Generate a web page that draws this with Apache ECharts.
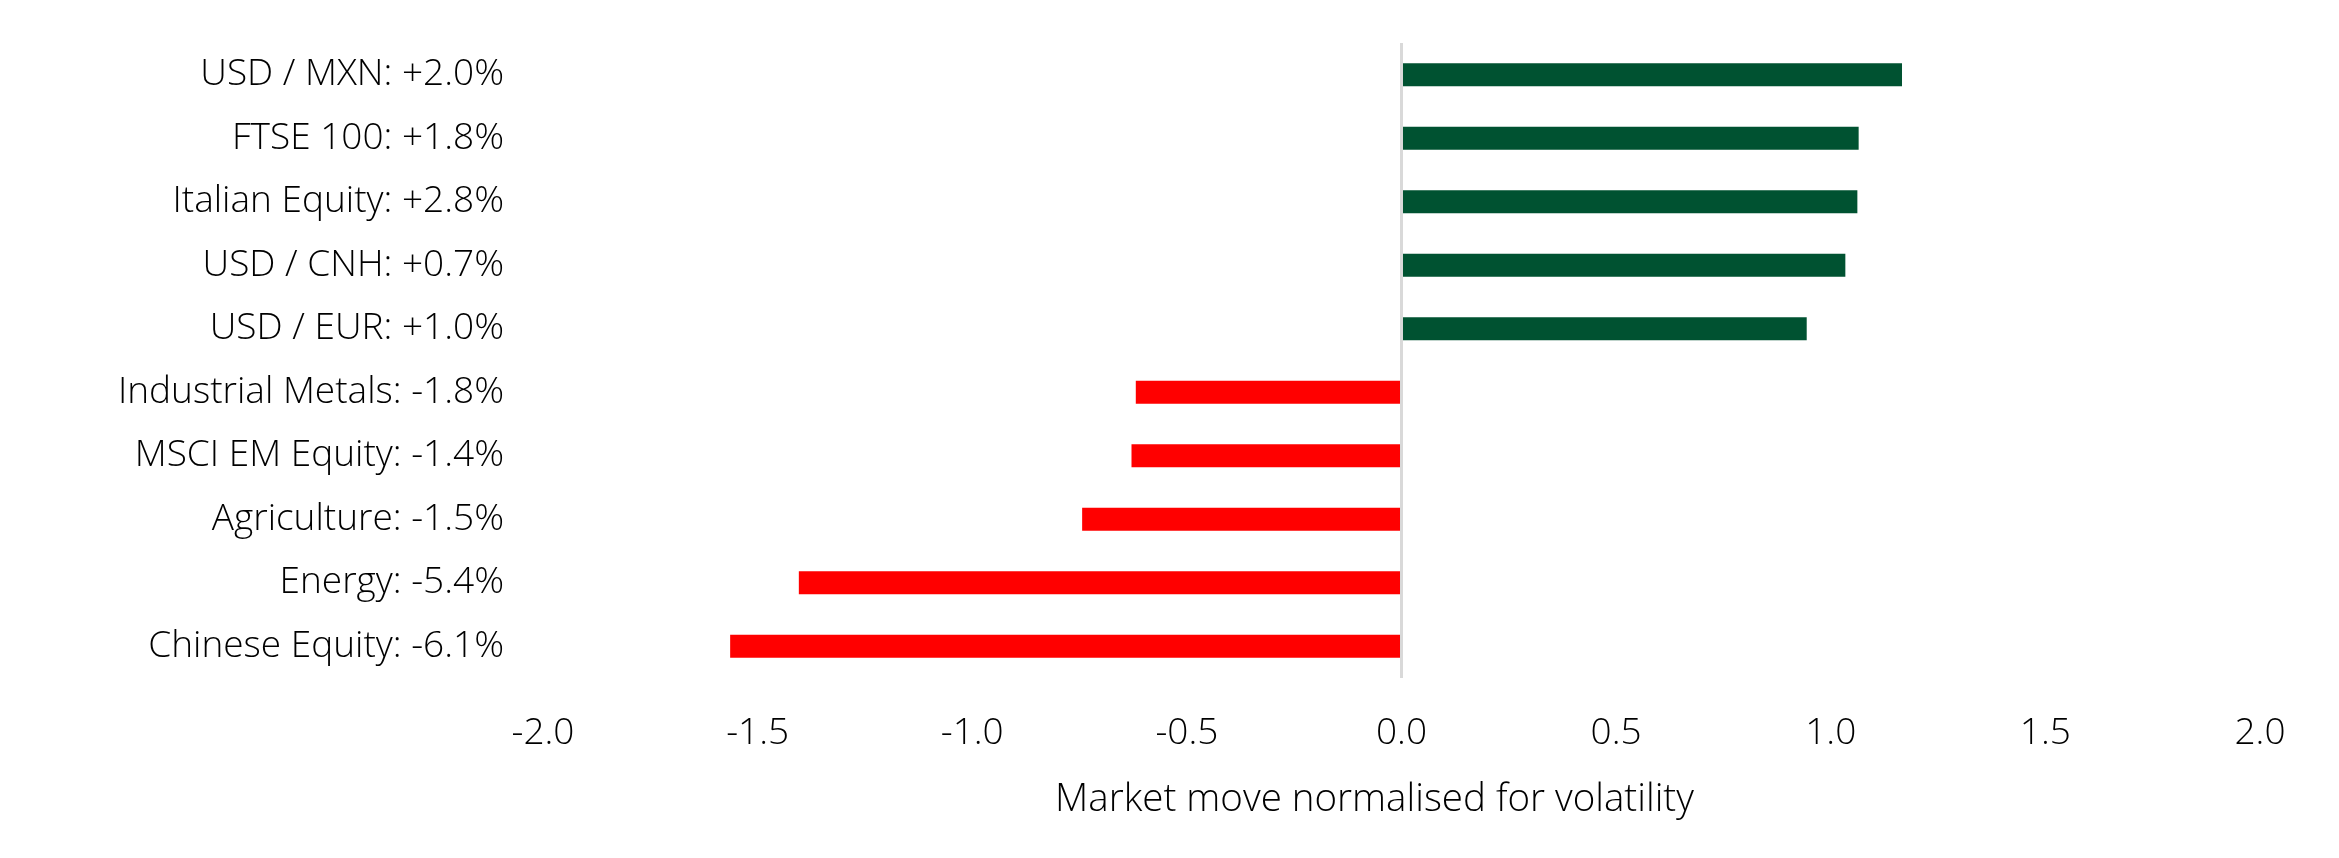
<!DOCTYPE html>
<html>
<head>
<meta charset="utf-8">
<script src="https://cdn.jsdelivr.net/npm/echarts@6/dist/echarts.min.js"></script>
<style>
html,body{margin:0;padding:0;background:#fff;}
#chart{width:2339px;height:858px;}
</style>
</head>
<body>
<div id="chart"></div>
<script>
const categories = [
  "USD / MXN: +2.0%",
  "FTSE 100: +1.8%",
  "Italian Equity: +2.8%",
  "USD / CNH: +0.7%",
  "USD / EUR: +1.0%",
  "Industrial Metals: -1.8%",
  "MSCI EM Equity: -1.4%",
  "Agriculture: -1.5%",
  "Energy: -5.4%",
  "Chinese Equity: -6.1%"
];
const values = [1.166, 1.065, 1.062, 1.034, 0.944, -0.619, -0.629, -0.744, -1.404, -1.564];
const xTicks = { min: -2, max: 2, interval: 0.5 };
const axisTitle = "Market move normalised for volatility";

const FONT = "'Open Sans'";
const FS = 37;
const chart = echarts.init(document.getElementById('chart'), null, {renderer: 'canvas'});
chart.setOption({
  animation: false,
  backgroundColor: '#ffffff',
  grid: { left: 543, right: 79, top: 43, bottom: 180 },
  xAxis: {
    type: 'value', min: xTicks.min, max: xTicks.max, interval: xTicks.interval,
    axisLine: { show: false }, axisTick: { show: false }, splitLine: { show: false },
    axisLabel: { formatter: v => v.toFixed(1), color: '#000', fontSize: FS, fontFamily: FONT, fontWeight: 300, margin: 37 },
    name: axisTitle, nameLocation: 'middle', nameGap: 103,
    nameTextStyle: { color: '#000', fontSize: 38.5, fontFamily: FONT, fontWeight: 300, padding: [0, 54, 0, 0] }
  },
  yAxis: {
    type: 'category', data: categories, inverse: true,
    axisLine: { show: false, onZero: false }, axisTick: { show: false }, splitLine: { show: false },
    axisLabel: { color: '#000', fontSize: FS, fontFamily: FONT, fontWeight: 300, margin: 39 }
  },
  series: [{
    type: 'bar', barWidth: 23,
    data: values.map(v => ({ value: v, itemStyle: { color: v >= 0 ? '#005231' : '#ff0000' } })),
    markLine: {
      silent: true, symbol: ['none', 'none'], label: { show: false },
      lineStyle: { color: '#d9d9d9', width: 3, type: 'solid' },
      data: [{ xAxis: 0 }]
    }
  }]
});
</script>
</body>
</html>
